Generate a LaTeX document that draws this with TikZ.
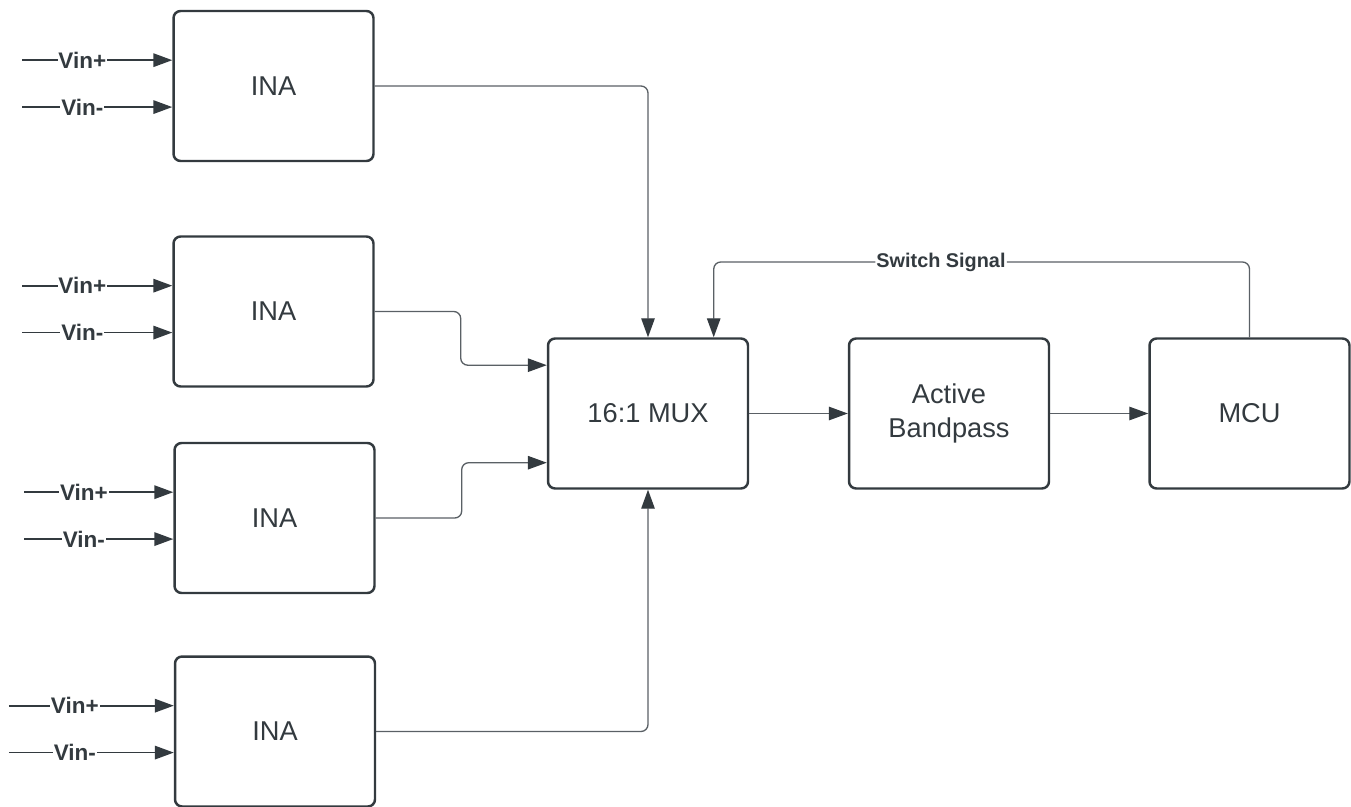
\documentclass[tikz,border=0pt]{standalone}
\usepackage{fontspec}
\setmainfont{Liberation Sans}
\usetikzlibrary{positioning,arrows.meta}

\definecolor{boxgray}{HTML}{333A3F}
\definecolor{wiregray}{HTML}{5A6065}

\tikzset{
	block/.style={draw=boxgray, line width=1.4pt, rounded corners=4pt,
		minimum width=4cm, minimum height=3cm, inner sep=0pt, align=center,
		text=boxgray, font=\fontsize{15.5}{19}\selectfont},
	wire/.style={draw=wiregray, line width=0.75pt, rounded corners=4pt,
		-{Triangle[length=0.38cm, width=0.27cm, color=boxgray]}},
	pin/.style={draw=boxgray, line width=1pt,
		-{Triangle[length=0.38cm, width=0.27cm]}},
	lbl/.style={fill=white, inner sep=0.5pt, text=boxgray,
		font=\bfseries\fontsize{12.8}{14}\selectfont}
}

\begin{document}
\begin{tikzpicture}[x=0.02cm, y=-0.02cm]
		\useasboundingbox (0,0) rectangle (1351,807);
		
		\node[block] (ina1) at (273.5,86) {INA};
		\node[block] (ina2) at (273.5,311.5) {INA};
		\node[block] (ina3) at (274.5,518) {INA};
		\node[block] (ina4) at (275,731.5) {INA};
		
		\node[block] (mux) at (648,413.5) {16:1 MUX};
		\node[block] (bp) at (949,413.5) {Active\\Bandpass};
		\node[block] (mcu) at (1249.5,413.5) {MCU};
		
		% inputs
		\foreach \n/\l in {ina1/150, ina2/150, ina3/149, ina4/165} {
			\coordinate (\n vp) at ([yshift=14.7pt]\n.west);
			\coordinate (\n vm) at ([yshift=-12pt]\n.west);
			\path (\n vp) ++(-\l,0) coordinate (\n vps);
			\path (\n vm) ++(-\l,0) coordinate (\n vms);
			\draw[pin] (\n vps) -- (\n vp) node[lbl, pos=.4] {Vin+};
			\draw[pin] (\n vms) -- (\n vm) node[lbl, pos=.4] {Vin-};
		}
		
		\draw[wire] (ina1.east) -| (mux.north);
		\draw[wire] (ina2.east) -- ++(86,0) |- ([yshift=27.5pt]mux.west);
		\draw[wire] (ina3.east) -- ++(86,0) |- ([yshift=-28pt]mux.west);
		\draw[wire] (ina4.east) -| (mux.south);
		
		\draw[wire] (mux) -- (bp);
		\draw[wire] (bp) -- (mcu);
		
		\node[lbl, fill=none, font=\bfseries\fontsize{11.3}{14}\selectfont] (sig) at (941,262) {Switch Signal};
		\draw[wire] (mcu.north) |- (sig) -| ([xshift=37.4pt]mux.north);
\end{tikzpicture}
\end{document}
